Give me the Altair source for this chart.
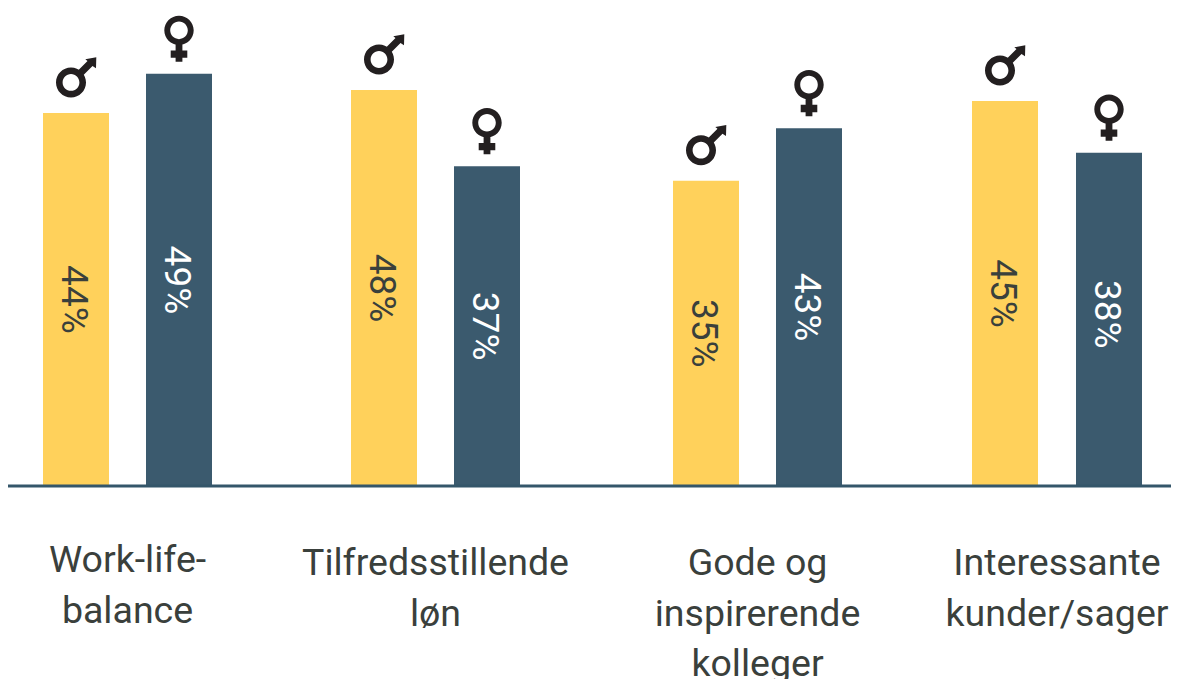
import altair as alt
import pandas as pd

categories = ["Work-life-\nbalance", "Tilfredsstillende\nløn", "Gode og\ninspirerende\nkolleger", "Interessante\nkunder/sager"]
cat_x = [127.5, 435.5, 757.5, 1057]
cat_y = [533.5, 537, 537, 537]
cat_lh = [51, 50.5, 50.5, 50.5]
men_x = [76, 384, 706, 1005]
women_x = [179, 487, 809, 1109]
men_values = [44.0, 46.7, 36.0, 45.4]
women_values = [48.6, 37.7, 42.2, 39.3]
men_label_pos = [22.0, 23.35, 18.0, 22.7]
women_label_pos = [24.3, 18.85, 21.1, 20.25]
men_labels = ["44%", "48%", "35%", "45%"]
women_labels = ["49%", "37%", "43%", "38%"]

YELLOW = "#FFD15B"
BLUE = "#3B5A6E"
LINE = "#34566A"
INK = "#231F20"
TEXT = "#3A403C"

MALE = ("M-15,0A15,15 0 1 1 15,0A15,15 0 1 1 -15,0Z"
        "M-8.4,0A8.4,8.4 0 1 0 8.4,0A8.4,8.4 0 1 0 -8.4,0Z"
        "M5.5,-10.5L16.5,-21.5L14.3,-23.2L25.3,-25.2L25,-14.2L21.5,-16.5L10.5,-5.5Z")
FEMALE = ("M-14.7,0A14.7,14.7 0 1 1 14.7,0A14.7,14.7 0 1 1 -14.7,0Z"
          "M-8.8,0A8.8,8.8 0 1 0 8.8,0A8.8,8.8 0 1 0 -8.8,0Z"
          "M-3.4,13L3.4,13L3.4,20.2L8.3,20.2L8.3,27.5L3.4,27.5L3.4,31.5L-3.4,31.5L-3.4,27.5L-8.3,27.5L-8.3,20.2L-3.4,20.2Z")

men = pd.DataFrame({"x": men_x, "v": men_values, "label": men_labels, "mid": men_label_pos})
women = pd.DataFrame({"x": women_x, "v": women_values, "label": women_labels, "mid": women_label_pos})
cats = pd.DataFrame({"x": cat_x, "y": cat_y, "t": categories, "lh": cat_lh})

xs = alt.Scale(domain=[8, 1171], nice=False, zero=False, padding=0)
ys = alt.Scale(domain=[0, 478 / 8.48], nice=False, zero=False, padding=0)
X = alt.X("x:Q", scale=xs, axis=None)
Y = alt.Y("v:Q", scale=ys, axis=None)
YM = alt.Y("mid:Q", scale=ys, axis=None)


def bars(d, color):
    return alt.Chart(d).mark_bar(size=66, color=color, orient="vertical").encode(x=X, y=Y)


def pct(d, color):
    return alt.Chart(d).mark_text(angle=90, font="Roboto", fontWeight=400, fontSize=37, xOffset=-3.5,
                                  color=color, align="center", baseline="middle").encode(x=X, y=YM, text="label:N")


def sym(d, shape, dx, dy):
    return alt.Chart(d).mark_point(shape=shape, size=4, filled=True, color=INK, opacity=1,
                                   strokeWidth=0, xOffset=dx, yOffset=dy).encode(x=X, y=Y)


axis_line = alt.Chart(pd.DataFrame({"z": [0]})).mark_rule(color=LINE, strokeWidth=3).encode(
    y=alt.Y("z:Q", scale=ys, axis=None), x=alt.value(0), x2=alt.value(1163))

cat_layers = []
for i in range(len(categories)):
    cat_layers.append(
        alt.Chart(cats.iloc[[i]]).mark_text(font="Roboto", fontSize=37.5, color=TEXT, lineBreak="\n",
                                            lineHeight=cat_lh[i], align="center", baseline="top",
                                            clip=False).encode(
            x=X, y=alt.value(cat_y[i]), text="t:N"))

chart = alt.layer(
    bars(men, YELLOW), bars(women, BLUE), axis_line,
    pct(men, TEXT), pct(women, "#FFFFFF"),
    sym(men, MALE, -5, -30.5), sym(women, FEMALE, 0, -43.5),
    *cat_layers,
).properties(
    width=1163, height=478,
    padding={"left": 0, "top": 0, "right": 0, "bottom": 193},
    autosize=alt.AutoSizeParams(type="none"),
    background="#FFFFFF",
).configure_view(stroke=None)

chart.save("out.html", embed_options={"renderer": "svg", "actions": False})
